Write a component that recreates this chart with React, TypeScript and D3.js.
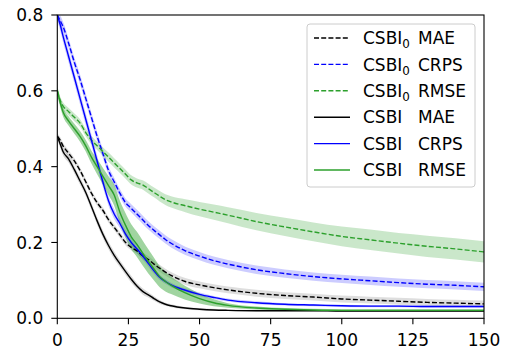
import React from "react";
import * as d3 from "d3";

const epochs = [0, 1, 2, 4, 6, 8, 10, 12, 14, 16, 18, 20, 22, 24, 26, 28, 30, 32, 34, 36, 38, 40, 45, 50, 55, 60, 70, 80, 90, 100, 110, 120, 130, 140, 150];

// CSBI_0 (dashed)
const csbi0MAE = [0.48, 0.47, 0.455, 0.435, 0.415, 0.39, 0.36, 0.33, 0.305, 0.285, 0.26, 0.24, 0.22, 0.2, 0.187, 0.178, 0.165, 0.155, 0.143, 0.132, 0.122, 0.113, 0.097, 0.088, 0.081, 0.075, 0.066, 0.06, 0.056, 0.051, 0.048, 0.045, 0.042, 0.04, 0.038];
const csbi0CRPS = [0.8, 0.785, 0.77, 0.725, 0.675, 0.63, 0.58, 0.53, 0.48, 0.435, 0.39, 0.36, 0.33, 0.305, 0.29, 0.275, 0.26, 0.245, 0.232, 0.22, 0.208, 0.198, 0.178, 0.164, 0.152, 0.143, 0.128, 0.118, 0.11, 0.104, 0.099, 0.094, 0.09, 0.087, 0.083];
const csbi0RMSE = [0.6, 0.575, 0.56, 0.545, 0.53, 0.515, 0.49, 0.47, 0.455, 0.44, 0.425, 0.41, 0.395, 0.38, 0.365, 0.357, 0.352, 0.342, 0.332, 0.322, 0.313, 0.307, 0.297, 0.288, 0.28, 0.272, 0.255, 0.241, 0.228, 0.216, 0.207, 0.198, 0.19, 0.183, 0.175];

// CSBI (solid)
const csbiMAE = [0.48, 0.46, 0.44, 0.42, 0.392, 0.362, 0.332, 0.295, 0.257, 0.222, 0.192, 0.166, 0.144, 0.123, 0.103, 0.085, 0.071, 0.062, 0.052, 0.043, 0.037, 0.033, 0.027, 0.024, 0.022, 0.021, 0.02, 0.02, 0.02, 0.019, 0.019, 0.019, 0.019, 0.019, 0.019];
const csbiCRPS = [0.8, 0.775, 0.745, 0.69, 0.635, 0.58, 0.525, 0.47, 0.415, 0.36, 0.31, 0.275, 0.25, 0.222, 0.2, 0.183, 0.165, 0.145, 0.125, 0.108, 0.097, 0.088, 0.074, 0.063, 0.055, 0.048, 0.041, 0.037, 0.035, 0.033, 0.032, 0.032, 0.031, 0.031, 0.031];
const csbiRMSE = [0.6, 0.57, 0.545, 0.52, 0.5, 0.48, 0.455, 0.425, 0.4, 0.375, 0.35, 0.325, 0.28, 0.245, 0.215, 0.195, 0.172, 0.15, 0.13, 0.11, 0.097, 0.087, 0.067, 0.052, 0.041, 0.034, 0.027, 0.024, 0.022, 0.021, 0.021, 0.021, 0.021, 0.021, 0.021];

// std bands
const csbi0MAEStd = [0.008, 0.008, 0.008, 0.008, 0.008, 0.008, 0.008, 0.008, 0.008, 0.008, 0.008, 0.008, 0.008, 0.008, 0.008, 0.008, 0.009, 0.009, 0.009, 0.009, 0.009, 0.009, 0.009, 0.009, 0.009, 0.009, 0.009, 0.009, 0.009, 0.009, 0.009, 0.009, 0.009, 0.009, 0.009];
const csbi0CRPSStd = [0.013, 0.013, 0.013, 0.013, 0.013, 0.013, 0.013, 0.012, 0.012, 0.012, 0.011, 0.011, 0.011, 0.011, 0.011, 0.011, 0.011, 0.011, 0.011, 0.011, 0.011, 0.011, 0.011, 0.011, 0.011, 0.011, 0.011, 0.011, 0.011, 0.011, 0.011, 0.011, 0.011, 0.011, 0.011];
const csbi0RMSEStd = [0.01, 0.01, 0.01, 0.01, 0.01, 0.01, 0.01, 0.011, 0.011, 0.011, 0.012, 0.012, 0.012, 0.012, 0.012, 0.012, 0.012, 0.013, 0.013, 0.014, 0.014, 0.015, 0.017, 0.019, 0.02, 0.021, 0.023, 0.024, 0.025, 0.026, 0.027, 0.027, 0.028, 0.028, 0.028];
const csbiMAEStd = [0.01, 0.01, 0.01, 0.01, 0.01, 0.01, 0.01, 0.01, 0.01, 0.01, 0.01, 0.01, 0.009, 0.009, 0.009, 0.008, 0.008, 0.007, 0.006, 0.005, 0.004, 0.004, 0.003, 0.003, 0.003, 0.002, 0.002, 0.002, 0.002, 0.002, 0.002, 0.002, 0.002, 0.002, 0.002];
const csbiCRPSStd = [0.016, 0.016, 0.016, 0.016, 0.016, 0.016, 0.016, 0.015, 0.015, 0.014, 0.013, 0.013, 0.012, 0.012, 0.012, 0.011, 0.01, 0.009, 0.008, 0.007, 0.006, 0.006, 0.005, 0.005, 0.004, 0.004, 0.004, 0.003, 0.003, 0.003, 0.003, 0.003, 0.003, 0.003, 0.003];
const csbiRMSEStd = [0.012, 0.012, 0.012, 0.012, 0.013, 0.014, 0.015, 0.017, 0.02, 0.022, 0.025, 0.028, 0.03, 0.032, 0.033, 0.033, 0.033, 0.032, 0.03, 0.028, 0.026, 0.023, 0.018, 0.013, 0.009, 0.006, 0.004, 0.003, 0.003, 0.003, 0.003, 0.003, 0.003, 0.003, 0.003];

const xTicks = [0, 25, 50, 75, 100, 125, 150];
const yTicks = [0.0, 0.2, 0.4, 0.6, 0.8];

type Series = { name: string; sub: boolean; metric: string; values: number[]; std: number[]; color: string; dashed: boolean; bandOpacity: number };

const series: Series[] = [
  { name: "CSBI", sub: true, metric: "MAE", values: csbi0MAE, std: csbi0MAEStd, color: "#000000", dashed: true, bandOpacity: 0.13 },
  { name: "CSBI", sub: true, metric: "CRPS", values: csbi0CRPS, std: csbi0CRPSStd, color: "#0000ff", dashed: true, bandOpacity: 0.2 },
  { name: "CSBI", sub: true, metric: "RMSE", values: csbi0RMSE, std: csbi0RMSEStd, color: "#2ca02c", dashed: true, bandOpacity: 0.25 },
  { name: "CSBI", sub: false, metric: "MAE", values: csbiMAE, std: csbiMAEStd, color: "#000000", dashed: false, bandOpacity: 0.15 },
  { name: "CSBI", sub: false, metric: "CRPS", values: csbiCRPS, std: csbiCRPSStd, color: "#0000ff", dashed: false, bandOpacity: 0.2 },
  { name: "CSBI", sub: false, metric: "RMSE", values: csbiRMSE, std: csbiRMSEStd, color: "#2ca02c", dashed: false, bandOpacity: 0.45 },
];

const W = 505;
const H = 349;
const M = { left: 57.3, right: 484, top: 15, bottom: 318.3 };
const FONT = "DejaVu Sans, sans-serif";
const FS = 17;
const DASH = "5,2.2";

export default function App() {
  const x = d3.scaleLinear().domain([0, 150]).range([M.left, M.right]);
  const y = d3.scaleLinear().domain([0, 0.8]).range([M.bottom, M.top]);

  const line = (vals: number[]) =>
    d3.line<number>().x((_, i) => x(epochs[i])).y((d) => y(d)).curve(d3.curveMonotoneX)(vals) || "";
  const area = (vals: number[], sd: number[]) =>
    d3
      .area<number>()
      .x((_, i) => x(epochs[i]))
      .y0((d, i) => y(Math.max(0, d - sd[i])))
      .y1((d, i) => y(Math.min(0.8, d + sd[i])))
      .curve(d3.curveMonotoneX)(vals) || "";

  const legX = 307, legY = 24, legW = 168, legH = 163;
  const rowY = (i: number) => 38 + i * 26.4;

  return (
    <div style={{ position: "fixed", left: 0, top: 0 }}>
      <svg width={W} height={H} style={{ display: "block", background: "#fff" }}>
        <defs>
          <clipPath id="plot">
            <rect x={M.left} y={M.top} width={M.right - M.left} height={M.bottom - M.top} />
          </clipPath>
        </defs>
        <g clipPath="url(#plot)">
          {series.map((s, k) => (
            <path key={"a" + k} d={area(s.values, s.std)} fill={s.color} fillOpacity={s.bandOpacity} stroke="none" />
          ))}
          {series.map((s, k) => (
            <path
              key={"l" + k}
              d={line(s.values)}
              fill="none"
              stroke={s.color}
              strokeWidth={1.4}
              strokeDasharray={s.dashed ? DASH : undefined}
            />
          ))}
        </g>
        <rect x={M.left} y={M.top} width={M.right - M.left} height={M.bottom - M.top} fill="none" stroke="#000" strokeWidth={1.1} />
        {xTicks.map((t) => (
          <g key={"x" + t}>
            <line x1={x(t)} x2={x(t)} y1={M.bottom} y2={M.bottom + 6} stroke="#000" strokeWidth={1.1} />
            <text x={x(t)} y={M.bottom + 28} textAnchor="middle" fontFamily={FONT} fontSize={FS} fill="#000">
              {t}
            </text>
          </g>
        ))}
        {yTicks.map((t) => (
          <g key={"y" + t}>
            <line x1={M.left - 6} x2={M.left} y1={y(t)} y2={y(t)} stroke="#000" strokeWidth={1.1} />
            <text x={M.left - 14} y={y(t)} dy="0.36em" textAnchor="end" fontFamily={FONT} fontSize={FS} fill="#000">
              {t.toFixed(1)}
            </text>
          </g>
        ))}
        <rect x={legX} y={legY} width={legW} height={legH} rx={3} fill="#fff" fillOpacity={0.8} stroke="#cccccc" strokeWidth={1} />
        {series.map((s, i) => (
          <g key={"lg" + i}>
            <line
              x1={314}
              x2={350}
              y1={rowY(i)}
              y2={rowY(i)}
              stroke={s.color}
              strokeWidth={1.4}
              strokeDasharray={s.dashed ? DASH : undefined}
            />
            <text x={363} y={rowY(i)} dy="0.36em" fontFamily={FONT} fontSize={FS} fill="#000">
              <tspan>{s.name}</tspan>
              {s.sub ? (
                <tspan fontSize={FS * 0.7} dy={4}>
                  0
                </tspan>
              ) : null}
              <tspan x={418} dy={s.sub ? -4 : 0}>
                {s.metric}
              </tspan>
            </text>
          </g>
        ))}
      </svg>
    </div>
  );
}
